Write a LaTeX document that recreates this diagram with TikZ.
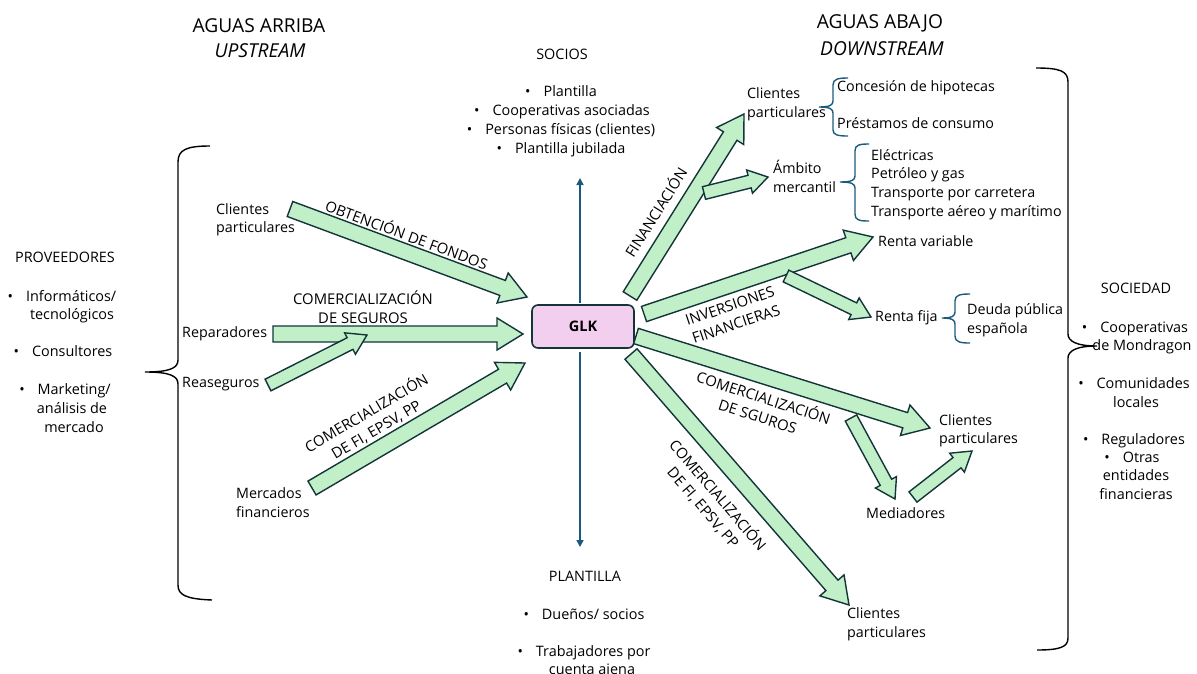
\documentclass[tikz,border=0pt]{standalone}
\usepackage{fontspec}
\setmainfont{Open Sans}
\usetikzlibrary{calc,arrows.meta}
\definecolor{arrfill}{RGB}{193,240,200}
\definecolor{arrline}{RGB}{20,52,58}
\definecolor{glkfill}{RGB}{242,206,239}
\definecolor{bluel}{RGB}{25,90,125}
\tikzset{
  fat/.style={fill=arrfill, draw=arrline, line width=1.4pt, line join=miter},
  txt/.style={inner sep=0pt, anchor=base west, font=\fontsize{14.3}{18.7}\selectfont},
  ctxt/.style={inner sep=0pt, anchor=base, font=\fontsize{14.4}{18.7}\selectfont},
  lab/.style={inner sep=0pt, font=\fontsize{14.8}{19.2}\selectfont, align=center},
  headtxt/.style={inner sep=0pt, anchor=base, font=\fontsize{19.2}{24}\selectfont},
  brk/.style={draw=black, line width=1.4pt},
  bbrk/.style={draw=bluel, line width=1.4pt},
  vline/.style={draw=bluel, line width=1.6pt, -{Triangle[length=7pt,width=7pt]}},
}
% #1 start, #2 end, #3 half shaft, #4 half head, #5 head length
\newcommand\fatarr[5]{%
  \coordinate (#1-#2-h) at ($(#2)!#5!(#1)$);
  \draw[fat] ($(#1)!#3!90:(#2)$) -- ($(#1-#2-h)!#3!-90:(#1)$) -- ($(#1-#2-h)!#4!-90:(#1)$) -- (#2)
    -- ($(#1-#2-h)!#4!90:(#1)$) -- ($(#1-#2-h)!#3!90:(#1)$) -- ($(#1)!#3!-90:(#2)$) -- cycle;}
\newcommand\bigarr[2]{\fatarr{#1}{#2}{8pt}{16pt}{26pt}}
\newcommand\smallarr[2]{\fatarr{#1}{#2}{6.5pt}{12pt}{19pt}}
\begin{document}
\begin{tikzpicture}[x=1pt,y=-1pt]
\useasboundingbox (0,0) rectangle (1197,673);

% headers
\node[headtxt] (ua) at (259,32) {AGUAS ARRIBA};
\node[headtxt] (up) at (260,57) {\itshape UPSTREAM};
\node[headtxt] (da) at (880,28) {AGUAS ABAJO};
\node[headtxt] (dn) at (882,55) {\itshape DOWNSTREAM};

% SOCIOS
\node[ctxt] (soc) at (562,59) {SOCIOS};
\node[ctxt] (s1) at (561,96) {\textbullet\hspace{0.9em}Plantilla};
\node[ctxt] (s2) at (562,115) {\textbullet\hspace{0.9em}Cooperativas asociadas};
\node[ctxt] (s3) at (561,134) {\textbullet\hspace{0.9em}Personas físicas (clientes)};
\node[ctxt] (s4) at (561,153) {\textbullet\hspace{0.9em}Plantilla jubilada};

% PLANTILLA
\node[ctxt] (pla) at (585,581) {PLANTILLA};
\node[ctxt] (p1) at (584,619) {\textbullet\hspace{0.9em}Dueños/ socios};
\node[ctxt] (p2) at (584,656) {\textbullet\hspace{0.9em}Trabajadores por};
\node[ctxt] (p3) at (592,674) {cuenta ajena};

% PROVEEDORES
\node[ctxt] (prov) at (65,262) {PROVEEDORES};
\node[ctxt] (pr1) at (62,301) {\textbullet\hspace{0.9em}Informáticos/};
\node[ctxt] (pr1b) at (72,319) {tecnológicos};
\node[ctxt] (pr2) at (63,356) {\textbullet\hspace{0.9em}Consultores};
\node[ctxt] (pr3) at (65,394) {\textbullet\hspace{0.9em}Marketing/};
\node[ctxt] (pr3b) at (72,413) {análisis de};
\node[ctxt] (pr3c) at (74,432) {mercado};

% SOCIEDAD
\node[ctxt] (socd) at (1136,293) {SOCIEDAD};
\node[ctxt] (sd1) at (1135,332) {\textbullet\hspace{0.9em}Cooperativas};
\node[ctxt] (sd1b) at (1142,350) {de Mondragon};
\node[ctxt] (sd2) at (1134,388) {\textbullet\hspace{0.9em}Comunidades};
\node[ctxt] (sd2b) at (1136,407) {locales};
\node[ctxt] (sd3) at (1134,444) {\textbullet\hspace{0.9em}Reguladores};
\node[ctxt] (sd4) at (1132,462) {\textbullet\hspace{0.9em}Otras};
\node[ctxt] (sd4b) at (1136,480) {entidades};
\node[ctxt] (sd4c) at (1136,499) {financieras};

% left labels
\node[txt] (lcp1) at (216,214) {Clientes};
\node[txt] (lcp2) at (216,232) {particulares};
\node[txt] (rep) at (182,337) {Reparadores};
\node[txt] (rea) at (182,387) {Reaseguros};
\node[txt] (mf1) at (236,498) {Mercados};
\node[txt] (mf2) at (236,517) {financieros};

% right labels
\node[txt] (rcp1) at (747,98) {Clientes};
\node[txt] (rcp2) at (747,117) {particulares};
\node[txt] (hip) at (837,91) {Concesión de hipotecas};
\node[txt] (pres) at (837,128) {Préstamos de consumo};
\node[txt] (amb1) at (773,173) {Ámbito};
\node[txt] (amb2) at (773,192) {mercantil};
\node[txt] (el1) at (871,160) {Eléctricas};
\node[txt] (el2) at (871,178) {Petróleo y gas};
\node[txt] (el3) at (871,197) {Transporte por carretera};
\node[txt] (el4) at (871,216) {Transporte aéreo y marítimo};
\node[txt] (rv) at (878,246) {Renta variable};
\node[txt] (rf) at (875,321) {Renta fija};
\node[txt] (dp1) at (967,314) {Deuda pública};
\node[txt] (dp2) at (967,333) {española};
\node[txt] (mcp1) at (939,425) {Clientes};
\node[txt] (mcp2) at (939,443) {particulares};
\node[txt] (med) at (866,518) {Mediadores};
\node[txt] (bcp1) at (847,618) {Clientes};
\node[txt] (bcp2) at (847,637) {particulares};

% GLK
\node[draw=arrline, fill=glkfill, rounded corners=6pt, line width=1.6pt,
      minimum width=102pt, minimum height=43pt, inner sep=0pt,
      font=\bfseries\fontsize{14.5}{16}\selectfont] (glk) at (583,326.5) {GLK};

% vertical blue arrows
\coordinate (vu0) at (580,303);
\coordinate (vu1) at (580,178);
\coordinate (vd0) at (580,352);
\coordinate (vd1) at (580,547);
\draw[vline] (vu0) -- (vu1);
\draw[vline] (vd0) -- (vd1);

% arrow anchor coordinates
\coordinate (a1s) at (290,209); \coordinate (a1e) at (527,297);
\coordinate (a2s) at (273,334); \coordinate (a2e) at (523,334);
\coordinate (a3s) at (268,385); \coordinate (a3e) at (367,335);
\coordinate (a4s) at (312,488); \coordinate (a4e) at (525,363);
\coordinate (a5s) at (630,296); \coordinate (a5e) at (744,114);
\coordinate (a6s) at (704,193); \coordinate (a6e) at (768,177);
\coordinate (a7s) at (644,314); \coordinate (a7e) at (873,237);
\coordinate (a8s) at (786,276); \coordinate (a8e) at (871,317);
\coordinate (a9s) at (636,336); \coordinate (a9e) at (930,428);
\coordinate (a10s) at (851,418); \coordinate (a10e) at (895,499);
\coordinate (a11s) at (913,497); \coordinate (a11e) at (972,451);
\coordinate (a12s) at (631,354); \coordinate (a12e) at (849,605);

\bigarr{a1s}{a1e}
\bigarr{a2s}{a2e}
\smallarr{a3s}{a3e}
\bigarr{a4s}{a4e}
\bigarr{a5s}{a5e}
\smallarr{a6s}{a6e}
\bigarr{a7s}{a7e}
\smallarr{a8s}{a8e}
\bigarr{a9s}{a9e}
\smallarr{a10s}{a10e}
\smallarr{a11s}{a11e}
\bigarr{a12s}{a12e}

% arrow labels
\node[lab, rotate=-20.4] (l1) at (407,234) {OBTENCIÓN DE FONDOS};
\node[lab] (l2) at (363,307) {COMERCIALIZACIÓN\\DE SEGUROS};
\node[lab, rotate=30.4] (l3) at (371,421) {COMERCIALIZACIÓN\\DE FI, EPSV, PP};
\node[lab, rotate=57.8] (l4) at (655,212) {FINANCIACIÓN};
\node[lab, rotate=18.6] (l5) at (733,315) {INVERSIONES\\FINANCIERAS};
\node[lab, rotate=-18] (l6) at (761,406) {COMERCIALIZACIÓN\\DE SGUROS};
\node[lab, rotate=-49.5] (l7) at (711,501) {COMERCIALIZACIÓN\\DE FI, EPSV, PP};

% big braces
\draw[brk] (210,146) .. controls (186,146) and (178,150) .. (178,162) -- (178,360)
  .. controls (178,368) and (170,372) .. (145,372)
  .. controls (170,372) and (178,376) .. (178,384) -- (178,585)
  .. controls (178,595) and (186,599) .. (212,600);
\draw[brk] (1036,68) .. controls (1060,68) and (1068,71) .. (1068,82) -- (1068,334)
  .. controls (1068,341) and (1076,346) .. (1097,346)
  .. controls (1076,346) and (1068,351) .. (1068,358) -- (1068,638)
  .. controls (1068,647) and (1060,650) .. (1037,650);

% small blue brackets
\draw[bbrk] (848,78) .. controls (838,78) and (833,79) .. (833,85) -- (833,101)
  .. controls (833,105) and (830,107) .. (819,107)
  .. controls (830,107) and (833,109) .. (833,113) -- (833,130)
  .. controls (833,135) and (838,136) .. (848,136);
\draw[bbrk] (869,144) .. controls (859,144) and (855,145) .. (855,151) -- (855,176)
  .. controls (855,180) and (852,182) .. (840,182)
  .. controls (852,182) and (855,184) .. (855,188) -- (855,214)
  .. controls (855,220) and (859,221) .. (869,221);
\draw[bbrk] (970,294) .. controls (960,294) and (955,295) .. (955,301) -- (955,312)
  .. controls (955,316) and (952,318) .. (942,318)
  .. controls (952,318) and (955,320) .. (955,324) -- (955,336)
  .. controls (955,342) and (960,343) .. (970,343);
\end{tikzpicture}
\end{document}
